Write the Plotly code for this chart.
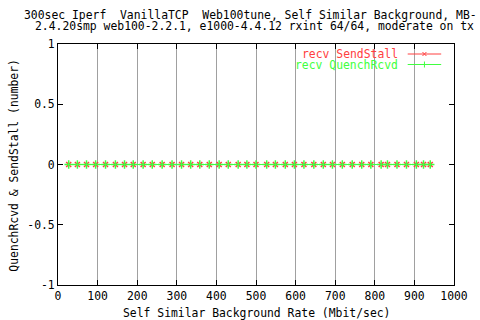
import plotly.graph_objects as go

# Data
rate = [27, 49, 72, 95, 120, 145, 168, 190, 215, 238, 263, 288, 312, 335, 358,
        382, 407, 430, 455, 477, 500, 527, 549, 574, 597, 621, 646, 670, 693,
        718, 743, 767, 790, 816, 832, 856, 880, 905, 923, 940]
send_stall = [0] * len(rate)
quench_rcvd = [0] * len(rate)

x_ticks = [0, 100, 200, 300, 400, 500, 600, 700, 800, 900, 1000]
y_ticks = [-1, -0.5, 0, 0.5, 1]
y_tick_text = ["-1", "-0.5", "0", "0.5", "1"]

title1 = "300sec Iperf  VanillaTCP  Web100tune, Self Similar Background, MB-"
title2 = "2.4.20smp web100-2.2.1, e1000-4.4.12 rxint 64/64, moderate on tx"
xlabel = "Self Similar Background Rate (Mbit/sec)"
ylabel = "QuenchRcvd &amp; SendStall (number)"
names = ["recv SendStall", "recv QuenchRcvd"]

RED = "#ff4040"
GREEN = "#40ff40"
FONT = "DejaVu Sans Mono"
FS = 11.4

W, H = 480, 320
L, R, T, B = 58, 20, 44, 35
pw, ph = W - L - R, H - T - B


def px(x):
    return (x - L) / pw


def py(y):
    return (H - B - y) / ph


fig = go.Figure()
fig.add_trace(go.Scatter(
    x=rate, y=send_stall, mode="lines+markers", name=names[0],
    line=dict(color=RED, width=1),
    marker=dict(symbol="x-thin", size=5, color=RED, line=dict(color=RED, width=1.5)),
    showlegend=False))
fig.add_trace(go.Scatter(
    x=rate, y=quench_rcvd, mode="lines+markers", name=names[1],
    line=dict(color=GREEN, width=1),
    marker=dict(symbol="cross-thin", size=6, color=GREEN, line=dict(color=GREEN, width=1.5)),
    showlegend=False))

ann = []
ann.append(dict(text=title1, x=px(21), y=py(15.5), xref="paper", yref="paper",
                xanchor="left", yanchor="middle", showarrow=False,
                font=dict(family=FONT, size=FS, color="black")))
ann.append(dict(text=title2, x=px(33), y=py(26), xref="paper", yref="paper",
                xanchor="left", yanchor="middle", showarrow=False,
                font=dict(family=FONT, size=FS, color="black")))
ann.append(dict(text=xlabel, x=px(259), y=py(313), xref="paper", yref="paper",
                xanchor="center", yanchor="middle", showarrow=False,
                font=dict(family=FONT, size=FS, color="black")))
ann.append(dict(text=ylabel, x=px(13), y=py(165), xref="paper", yref="paper",
                xanchor="center", yanchor="middle", showarrow=False, textangle=-90,
                font=dict(family=FONT, size=FS, color="black")))
# key (gnuplot style: text left, sample right)
ann.append(dict(text=names[0], x=px(405), y=py(54), xref="paper", yref="paper",
                xanchor="right", yanchor="middle", showarrow=False,
                font=dict(family=FONT, size=FS, color=RED)))
ann.append(dict(text=names[1], x=px(405), y=py(64.5), xref="paper", yref="paper",
                xanchor="right", yanchor="middle", showarrow=False,
                font=dict(family=FONT, size=FS, color=GREEN)))

shapes = [
    dict(type="rect", xref="paper", yref="paper", x0=px(292), x1=px(450),
         y0=py(48), y1=py(70), fillcolor="white", line=dict(width=0), layer="between"),
    dict(type="line", xref="paper", yref="paper", x0=px(413), x1=px(447),
         y0=py(54), y1=py(54), line=dict(color=RED, width=1), layer="above"),
    dict(type="line", xref="paper", yref="paper", x0=px(428), x1=px(432),
         y0=py(52), y1=py(56), line=dict(color=RED, width=1), layer="above"),
    dict(type="line", xref="paper", yref="paper", x0=px(428), x1=px(432),
         y0=py(56), y1=py(52), line=dict(color=RED, width=1), layer="above"),
    dict(type="line", xref="paper", yref="paper", x0=px(413), x1=px(447),
         y0=py(64.5), y1=py(64.5), line=dict(color=GREEN, width=1), layer="above"),
    dict(type="line", xref="paper", yref="paper", x0=px(430), x1=px(430),
         y0=py(61.5), y1=py(67.5), line=dict(color=GREEN, width=1), layer="above"),
]

fig.update_layout(
    width=W, height=H,
    margin=dict(l=L, r=R, t=T, b=B),
    paper_bgcolor="white", plot_bgcolor="white",
    font=dict(family=FONT, size=FS, color="black"),
    annotations=ann, shapes=shapes, showlegend=False,
    xaxis=dict(range=[0, 1000], tickvals=x_ticks, ticks="inside", ticklen=5,
               tickcolor="black", showline=True, linecolor="black", linewidth=1,
               mirror="allticks", showgrid=True, gridcolor="#a0a0a0", gridwidth=1,
               zeroline=False, tickfont=dict(family=FONT, size=FS)),
    yaxis=dict(range=[-1, 1], tickvals=y_ticks, ticktext=y_tick_text, ticks="inside",
               ticklen=5, tickcolor="black", showline=True, linecolor="black",
               linewidth=1, mirror="allticks", showgrid=False, zeroline=False,
               tickfont=dict(family=FONT, size=FS)),
)

fig.write_html("out.html")
